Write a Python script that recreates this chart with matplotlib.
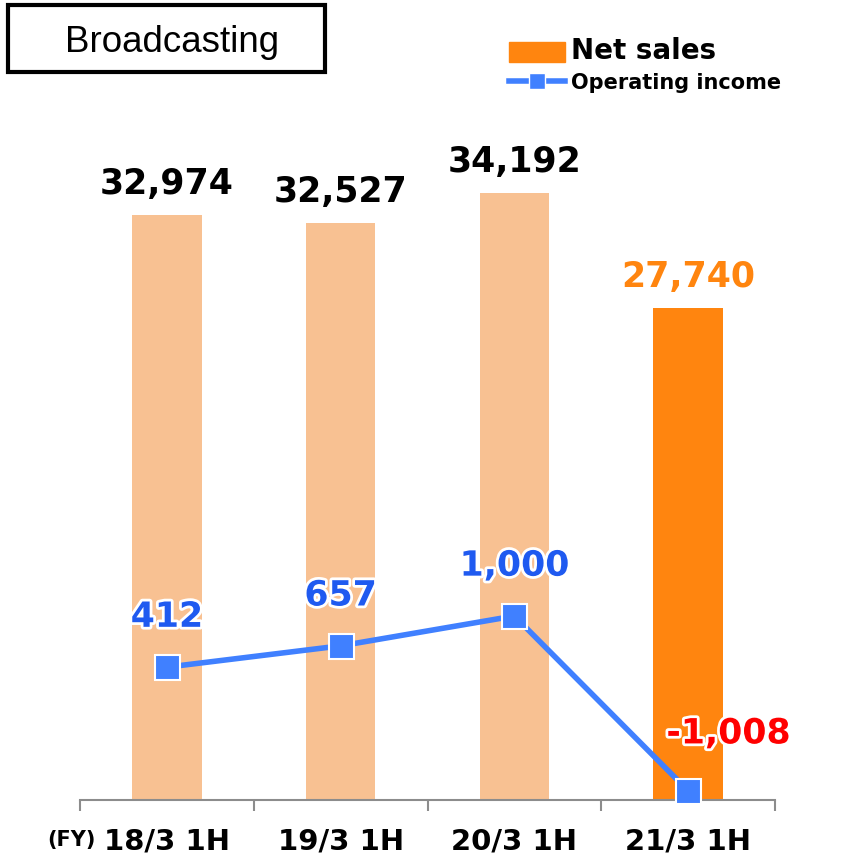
import matplotlib.pyplot as plt
import matplotlib.patheffects as pe
from matplotlib.patches import Rectangle, Patch
from matplotlib.lines import Line2D

categories = ['18/3 1H', '19/3 1H', '20/3 1H', '21/3 1H']
net_sales = [32974, 32527, 34192, 27740]
op_income = [412, 657, 1000, -1008]

light = '#F8C192'
orange = '#FF850F'
blue = '#4080FF'
blue_txt = '#1F5AF0'

fig = plt.figure(figsize=(8.6, 8.66), dpi=100)
ax = fig.add_axes([80/860, 1-800/866, 695/860, 710/866])
ax2 = ax.twinx()

x = list(range(len(categories)))
cols = [light]*3 + [orange]
ax.bar(x, net_sales, width=0.4, color=cols, zorder=1)
ax.set_xlim(-0.5, 3.5)
ax.set_ylim(0, 40000)

for i, v in enumerate(net_sales):
    c = orange if i == 3 else 'black'
    ax.annotate(f'{v:,}', (i, v), xytext=(0, 10), textcoords='offset points',
                ha='center', va='bottom', fontsize=25, fontweight='bold', color=c)

ax2.plot(x, op_income, color=blue, lw=4, marker='s', ms=18, mfc=blue,
         mec='white', mew=1.5, clip_on=False, zorder=5)
ax2.set_ylim(-1115, 7046)

glow = [pe.withStroke(linewidth=4, foreground='white')]
for i, v in enumerate(op_income):
    if v < 0:
        ax2.annotate(f'{v:,}', (i, v), xytext=(29, 29), textcoords='offset points',
                     ha='center', va='bottom', fontsize=25, fontweight='bold',
                     color='#FF0000', path_effects=glow, zorder=6)
    else:
        ax2.annotate(f'{v:,}', (i, v), xytext=(0, 24), textcoords='offset points',
                     ha='center', va='bottom', fontsize=25, fontweight='bold',
                     color=blue_txt, path_effects=glow, zorder=6)

for a in (ax, ax2):
    for s in ['top', 'left', 'right']:
        a.spines[s].set_visible(False)
    a.set_yticks([])
ax2.spines['bottom'].set_visible(False)
ax.spines['bottom'].set_color('#8C8C8C')
ax.spines['bottom'].set_linewidth(1.5)

ax.set_xticks(x)
ax.set_xticklabels(categories, fontsize=21, fontweight='bold')
ax.tick_params(axis='x', which='major', length=0, pad=20)
ax.set_xticks([-0.5, 0.5, 1.5, 2.5, 3.5], minor=True)
ax.tick_params(axis='x', which='minor', length=8, width=1.5, color='#8C8C8C')
fig.text(47/860, 1-840/866, '(FY)', fontsize=15, fontweight='bold', va='center')

# title box
fig.patches.append(Rectangle((8/860, 1-72/866), 317/860, 67/866, transform=fig.transFigure,
                             fill=False, edgecolor='black', lw=3))
fig.text(172/860, 1-42/866, 'Broadcasting', fontsize=26.5, family='Liberation Sans',
         ha='center', va='center')

handles = [Patch(color=orange),
           Line2D([], [], color=blue, lw=4, marker='s', ms=11, mec='white', mew=1)]
leg = fig.legend(handles, ['Net sales', 'Operating income'], loc='upper left',
                 bbox_to_anchor=(490/860, 1-18/866), frameon=False, handlelength=2.7,
                 handleheight=1.1, handletextpad=0.3, labelspacing=0.35,
                 prop={'weight': 'bold', 'size': 15})
leg.get_texts()[0].set_fontsize(20)

fig.savefig('out.png', dpi=100)
